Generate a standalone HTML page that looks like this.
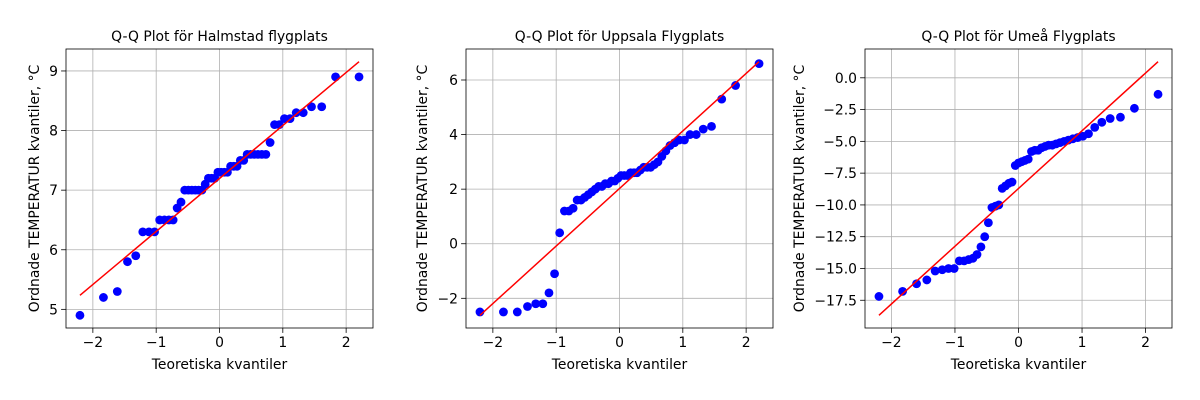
<!DOCTYPE html>
<html><head><meta charset="utf-8">
<style>
html,body{margin:0;padding:0;background:#fff;}
svg{display:block;font-family:"DejaVu Sans","Liberation Sans",sans-serif;}
</style></head>
<body>
<svg id="fig" width="1200" height="400" viewBox="0 0 1200 400"></svg>
<script>
// ---- data (sorted observed temperatures per station) ----
const titles = ["Q-Q Plot för Halmstad flygplats","Q-Q Plot för Uppsala Flygplats","Q-Q Plot för Umeå Flygplats"];
const halmstadValues = [4.9,5.2,5.3,5.8,5.9,6.3,6.3,6.3,6.5,6.5,6.5,6.5,6.7,6.8,7.0,7.0,7.0,7.0,7.0,7.0,7.1,7.2,7.2,7.2,7.3,7.3,7.3,7.3,7.4,7.4,7.4,7.5,7.5,7.6,7.6,7.6,7.6,7.6,7.6,7.8,8.1,8.1,8.2,8.2,8.3,8.3,8.4,8.4,8.9,8.9];
const uppsalaValues = [-2.5,-2.5,-2.5,-2.3,-2.2,-2.2,-1.8,-1.1,0.4,1.2,1.2,1.3,1.6,1.6,1.7,1.8,1.9,2.0,2.1,2.1,2.2,2.2,2.3,2.3,2.4,2.5,2.5,2.5,2.6,2.6,2.6,2.7,2.8,2.8,2.8,2.9,3.0,3.2,3.4,3.6,3.7,3.8,3.8,4.0,4.0,4.2,4.3,5.3,5.8,6.6];
const umeaValues = [-17.2,-16.8,-16.2,-15.9,-15.2,-15.1,-15.0,-15.0,-14.4,-14.4,-14.3,-14.2,-13.9,-13.3,-12.5,-11.4,-10.2,-10.1,-10.0,-8.7,-8.5,-8.3,-8.2,-6.9,-6.7,-6.6,-6.5,-6.4,-5.8,-5.7,-5.7,-5.5,-5.4,-5.3,-5.3,-5.2,-5.1,-5.0,-4.9,-4.8,-4.7,-4.6,-4.4,-3.9,-3.5,-3.2,-3.1,-2.4,-1.3];
const xTicks = [-2,-1,0,1,2];
const halmstadTicks = [5,6,7,8,9];
const uppsalaTicks = [-2,0,2,4,6];
const umeaTicks = [0,-2.5,-5,-7.5,-10,-12.5,-15,-17.5];

const NS="http://www.w3.org/2000/svg";
const svg=document.getElementById('fig');
function mk(tag,attrs,parent){const e=document.createElementNS(NS,tag);for(const k in attrs)e.setAttribute(k,attrs[k]);(parent||svg).appendChild(e);return e;}

// inverse normal CDF (Acklam)
function ppf(p){
 const a=[-3.969683028665376e+01,2.209460984245205e+02,-2.759285104469687e+02,1.383577518672690e+02,-3.066479806614716e+01,2.506628277459239e+00];
 const b=[-5.447609879822406e+01,1.615858368580409e+02,-1.556989798598866e+02,6.680131188771972e+01,-1.328068155288572e+01];
 const c=[-7.784894002430293e-03,-3.223964580411365e-01,-2.400758277161838e+00,-2.549671010331125e+00,4.374664141464968e+00,2.938163982698783e+00];
 const d=[7.784695709041462e-03,3.224671290700398e-01,2.445134137142996e+00,3.754408661907416e+00];
 const pl=0.02425;let q,r;
 if(p<pl){q=Math.sqrt(-2*Math.log(p));return (((((c[0]*q+c[1])*q+c[2])*q+c[3])*q+c[4])*q+c[5])/((((d[0]*q+d[1])*q+d[2])*q+d[3])*q+1);}
 if(p>1-pl){q=Math.sqrt(-2*Math.log(1-p));return -(((((c[0]*q+c[1])*q+c[2])*q+c[3])*q+c[4])*q+c[5])/((((d[0]*q+d[1])*q+d[2])*q+d[3])*q+1);}
 q=p-0.5;r=q*q;return (((((a[0]*r+a[1])*r+a[2])*r+a[3])*r+a[4])*r+a[5])*q/(((((b[0]*r+b[1])*r+b[2])*r+b[3])*r+b[4])*r+1);
}
function quantiles(n){const m=[];for(let i=1;i<=n;i++){let v;if(i===1)v=1-Math.pow(0.5,1/n);else if(i===n)v=Math.pow(0.5,1/n);else v=(i-0.3175)/(n+0.365);m.push(ppf(v));}return m;}

function drawPanel(idx,left,values,yTicks,fmt,labelX){
 const top=49,bottom=328,w=307,right=left+w;
 const g=mk('g',{});
 
 
 const xs=quantiles(values.length);
 const n=xs.length;let mx=0,my=0;for(let i=0;i<n;i++){mx+=xs[i];my+=values[i];}mx/=n;my/=n;
 let sxy=0,sxx=0;for(let i=0;i<n;i++){sxy+=(xs[i]-mx)*(values[i]-my);sxx+=(xs[i]-mx)**2;}
 const slope=sxy/sxx,icpt=my-slope*mx;
 const x0=xs[0],x1=xs[n-1],l0=icpt+slope*x0,l1=icpt+slope*x1;
 let xmin=x0,xmax=x1,xm=(xmax-xmin)*0.05;xmin-=xm;xmax+=xm;
 let ymin=Math.min(...values,l0,l1),ymax=Math.max(...values,l0,l1),ym=(ymax-ymin)*0.05;ymin-=ym;ymax+=ym;
 const X=v=>left+(v-xmin)/(xmax-xmin)*w;
 const Y=v=>bottom-(v-ymin)/(ymax-ymin)*(bottom-top);
 xTicks.forEach(t=>{const l=mk('line',{x1:X(t),x2:X(t),y1:top,y2:bottom,stroke:'#b0b0b0','stroke-width':0.8},g);});
 yTicks.forEach(t=>{const l=mk('line',{x1:left,x2:right,y1:Y(t),y2:Y(t),stroke:'#b0b0b0','stroke-width':0.8},g);});
 for(let i=0;i<n;i++){const c=mk('circle',{cx:X(xs[i]),cy:Y(values[i]),r:4.4,fill:'#0000ff'},g);
  
  }
 const fl=mk('line',{x1:X(x0),y1:Y(l0),x2:X(x1),y2:Y(l1),stroke:'#ff0000','stroke-width':1.5},g);
 
 
 const fr=mk('rect',{x:left,y:top,width:w,height:bottom-top,fill:'none',stroke:'#000','stroke-width':0.8},g);
 
 
 xTicks.forEach(t=>{mk('line',{x1:X(t),x2:X(t),y1:bottom,y2:bottom+4.9,stroke:'#000','stroke-width':0.8},g);
  const tx=mk('text',{x:X(t),y:bottom+19,'font-size':13.9,'text-anchor':'middle',fill:'#000'},g);
  tx.textContent=(t<0?'\u2212'+(-t):String(t));
  
  });
 yTicks.forEach(t=>{mk('line',{x1:left-4.9,x2:left,y1:Y(t),y2:Y(t),stroke:'#000','stroke-width':0.8},g);
  const tx=mk('text',{x:left-8,y:Y(t)+5,'font-size':13.9,'text-anchor':'end',fill:'#000'},g);
  const s=fmt(Math.abs(t));tx.textContent=(t<0?'\u2212':'')+s;
  
  });
 const ti=mk('text',{x:left+w/2,y:41,'font-size':13.9,'text-anchor':'middle',fill:'#000'},g);
 ti.textContent=titles[idx];
 
 
 const xl=mk('text',{x:left+w/2,y:369,'font-size':13.9,'text-anchor':'middle',fill:'#000'},g);
 xl.textContent='Teoretiska kvantiler';
 
 
 const lx=labelX, ly=(top+bottom)/2;
 const yl=mk('text',{x:lx,y:ly,'font-size':13.9,'text-anchor':'middle',fill:'#000',transform:'rotate(-90 '+lx+' '+ly+')'},g);
 yl.textContent='Ordnade TEMPERATUR kvantiler, °C';
 
 
}
drawPanel(0,66,halmstadValues,halmstadTicks,v=>String(v),39);
drawPanel(1,466,uppsalaValues,uppsalaTicks,v=>String(v),427);
drawPanel(2,865,umeaValues,umeaTicks,v=>v.toFixed(1),804);
</script>
</body></html>
